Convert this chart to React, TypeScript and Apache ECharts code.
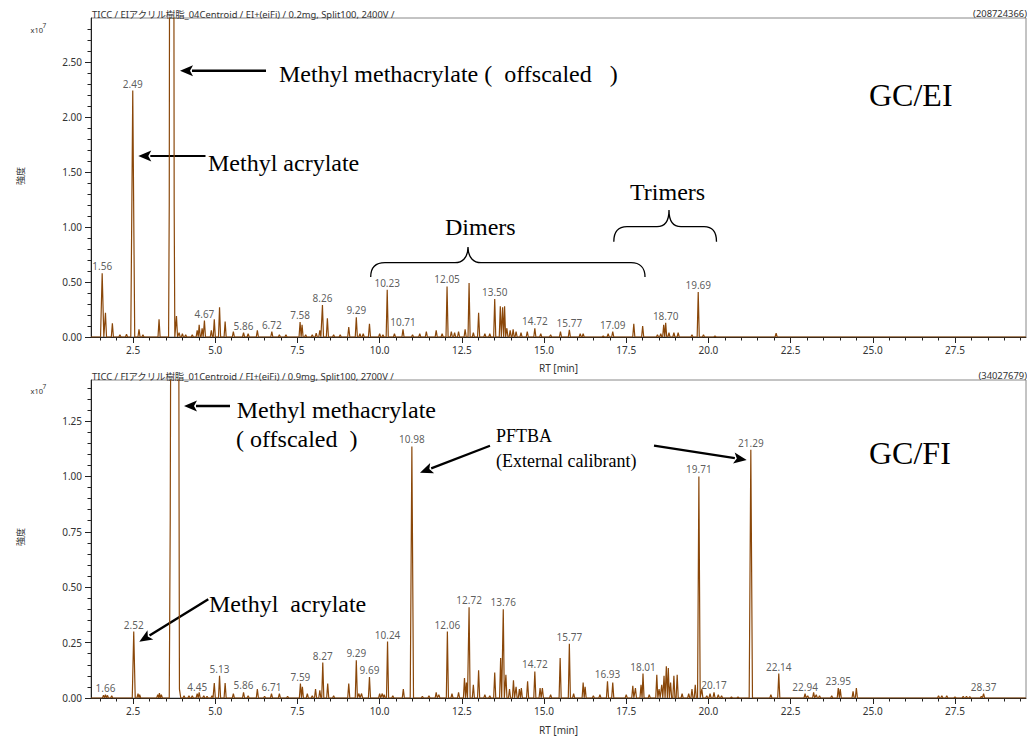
import React, { useEffect, useRef } from "react";
import * as echarts from "echarts";

// ---------- axis ranges & tick labels ----------
const X_MIN = 1.22;
const X_MAX = 29.66;
const X_LABELS = [2.5, 5, 7.5, 10, 12.5, 15, 17.5, 20, 22.5, 25, 27.5];
const EI_Y_MAX = 2.9;
const EI_Y_LABELS = [0, 0.5, 1, 1.5, 2, 2.5];
const FI_Y_MAX = 1.435;
const FI_Y_LABELS = [0, 0.25, 0.5, 0.75, 1, 1.25];

// ---------- GC/EI chromatogram peaks [RT min, intensity x1e7, (half width)] ----------
const EI_PEAKS: number[][] = [
  [1.56, 0.58, 0.05], [1.66, 0.22], [1.87, 0.125], [2.1, 0.02], [2.3, 0.025], [2.49, 2.24, 0.06],
  [2.68, 0.07], [2.8, 0.02], [3.29, 0.16], [3.82, 0.19], [3.9, 0.04], [4.0, 0.03], [4.1, 0.02],
  [4.3, 0.02], [4.45, 0.06], [4.51, 0.11], [4.6, 0.08], [4.67, 0.15], [4.88, 0.06], [4.97, 0.16],
  [5.13, 0.27], [5.3, 0.14], [5.55, 0.05], [5.86, 0.04], [6.0, 0.03], [6.28, 0.06], [6.72, 0.05],
  [6.95, 0.02], [7.15, 0.02], [7.58, 0.135], [7.64, 0.11], [7.75, 0.02], [7.95, 0.02], [8.07, 0.035],
  [8.18, 0.06], [8.26, 0.29], [8.41, 0.17], [8.6, 0.02], [8.8, 0.02], [9.06, 0.09], [9.29, 0.18],
  [9.4, 0.03], [9.5, 0.03], [9.69, 0.12], [10.0, 0.03], [10.1, 0.02], [10.23, 0.43], [10.45, 0.03],
  [10.71, 0.07], [11.0, 0.02], [11.22, 0.03], [11.42, 0.05], [11.72, 0.06], [11.9, 0.03],
  [12.05, 0.46], [12.18, 0.05], [12.28, 0.04], [12.4, 0.05], [12.6, 0.07], [12.72, 0.49],
  [12.85, 0.04], [13.01, 0.22], [13.2, 0.03], [13.35, 0.03], [13.5, 0.345], [13.67, 0.28],
  [13.74, 0.27], [13.8, 0.28], [13.87, 0.08], [13.97, 0.06], [14.06, 0.07], [14.15, 0.05],
  [14.3, 0.04], [14.49, 0.05], [14.72, 0.08], [14.9, 0.03], [15.2, 0.02], [15.5, 0.05],
  [15.77, 0.065], [16.1, 0.03], [16.19, 0.03], [16.8, 0.01], [16.95, 0.03], [17.09, 0.05],
  [17.73, 0.12], [18.0, 0.1], [18.45, 0.02], [18.55, 0.03], [18.64, 0.11], [18.7, 0.13],
  [18.8, 0.04], [18.95, 0.04], [19.08, 0.04], [19.5, 0.02], [19.69, 0.41], [19.85, 0.02],
  [20.2, 0.01], [22.06, 0.035],
];
// off-scale methyl methacrylate peak (EI), apex = 20.87e7
const EI_MMA: number[][] = [
  [3.58, 0], [3.6, 1.2], [3.62, 6], [3.675, 20.87], [3.73, 6], [3.75, 1.2], [3.77, 0],
];
const EI_LABELS = [1.56, 2.49, 4.67, 5.86, 6.72, 7.58, 8.26, 9.29, 10.23, 10.71, 12.05, 13.5, 14.72, 15.77, 17.09, 18.7, 19.69];

// ---------- GC/FI chromatogram peaks ----------
const FI_PEAKS: number[][] = [
  [1.6, 0.012], [1.66, 0.015], [1.72, 0.012], [1.85, 0.01], [2.52, 0.3, 0.045], [2.65, 0.02],
  [2.7, 0.015], [3.25, 0.015], [3.3, 0.022], [3.36, 0.015], [4.05, 0.01], [4.2, 0.01], [4.3, 0.01],
  [4.45, 0.02], [4.51, 0.025], [4.65, 0.01], [4.75, 0.008], [4.9, 0.01], [4.97, 0.068], [5.13, 0.1],
  [5.3, 0.068], [5.55, 0.02], [5.86, 0.025], [6.0, 0.01], [6.28, 0.04], [6.5, 0.008], [6.71, 0.02],
  [6.95, 0.02], [7.2, 0.008], [7.59, 0.065], [7.65, 0.05], [7.8, 0.02], [7.95, 0.01], [8.05, 0.04],
  [8.18, 0.035], [8.27, 0.16], [8.42, 0.065], [8.6, 0.01], [9.06, 0.065], [9.29, 0.17], [9.37, 0.02],
  [9.45, 0.02], [9.69, 0.095], [10.0, 0.02], [10.08, 0.02], [10.14, 0.015], [10.24, 0.255],
  [10.4, 0.01], [10.72, 0.04], [10.98, 1.135, 0.05], [11.3, 0.008], [11.5, 0.01], [11.72, 0.025],
  [11.8, 0.015], [12.06, 0.3], [12.2, 0.02], [12.4, 0.025], [12.58, 0.09], [12.64, 0.07],
  [12.72, 0.41], [12.85, 0.06], [13.01, 0.125], [13.2, 0.015], [13.35, 0.01], [13.5, 0.115],
  [13.68, 0.18], [13.76, 0.4], [13.84, 0.105], [13.95, 0.04], [14.07, 0.08], [14.15, 0.05],
  [14.25, 0.04], [14.31, 0.045], [14.5, 0.075], [14.72, 0.12], [14.88, 0.045], [14.95, 0.045],
  [15.2, 0.015], [15.49, 0.18], [15.77, 0.245], [15.9, 0.02], [16.19, 0.07], [16.25, 0.05],
  [16.5, 0.01], [16.7, 0.015], [16.93, 0.075], [17.09, 0.07], [17.5, 0.015], [17.7, 0.055],
  [17.78, 0.045], [17.95, 0.06], [18.01, 0.11], [18.2, 0.015], [18.43, 0.105], [18.5, 0.04],
  [18.58, 0.06], [18.65, 0.1], [18.72, 0.143], [18.78, 0.135], [18.85, 0.07], [18.95, 0.1],
  [19.05, 0.105], [19.2, 0.02], [19.4, 0.02], [19.5, 0.04], [19.6, 0.06], [19.71, 1.0, 0.04],
  [19.8, 0.04], [19.95, 0.01], [20.05, 0.02], [20.17, 0.025], [20.3, 0.015], [20.4, 0.01],
  [20.7, 0.005], [20.9, 0.005], [21.29, 1.12, 0.05], [21.9, 0.015], [22.14, 0.11], [22.94, 0.02],
  [23.02, 0.01], [23.2, 0.025], [23.28, 0.015], [23.38, 0.01], [23.75, 0.01], [23.95, 0.045],
  [24.01, 0.04], [24.4, 0.03], [24.5, 0.045], [27.0, 0.01], [27.1, 0.01], [27.25, 0.01],
  [27.5, 0.005], [27.75, 0.008], [27.85, 0.008], [27.95, 0.006], [28.3, 0.008], [28.37, 0.02],
];
// off-scale methyl methacrylate peak (FI), apex = 3.40e7
const FI_MMA: number[][] = [
  [3.6, 0], [3.63, 0.8], [3.66, 2.6], [3.77, 3.4], [3.88, 2.6], [3.9, 0.8], [3.91, 0.04], [3.95, 0],
];
const FI_LABELS = [1.66, 2.52, 4.45, 5.13, 5.86, 6.71, 7.59, 8.27, 9.29, 9.69, 10.24, 10.98, 12.06, 12.72, 13.76, 14.72, 15.77, 16.93, 18.01, 19.71, 20.17, 21.29, 22.14, 22.94, 23.95, 28.37];

// ---------- styles ----------
const LINE_COLOR = "#8a4709";
const SANS = "'Noto Sans', 'Noto Sans CJK JP', sans-serif";
const JP = "'Noto Sans CJK JP', 'Noto Sans', sans-serif";
const SERIF = "'Liberation Serif', 'DejaVu Serif', serif";
const AXIS_COLOR = "#222";
const TEXT_COLOR = "#333";

// brace shapes
try {
  echarts.graphic.registerShape(
    "braceDimers",
    echarts.graphic.extendPath(
      "M370.7,277 C370.7,268 375,262.7 385,262.7 L455,262.7 C462,262.7 468,258 468,247 C468,258 474,262.7 481,262.7 L631,262.7 C640,262.7 645,268 645,277",
      {}
    ) as any
  );
  echarts.graphic.registerShape(
    "braceTrimers",
    echarts.graphic.extendPath(
      "M613.8,241.7 C613.8,232 618,226.7 627,226.7 L657,226.7 C664,226.7 669,222 669,210 C669,222 674,226.7 681,226.7 L704,226.7 C712,226.7 716.5,232 716.5,241.7",
      {}
    ) as any
  );
} catch (e) {
  // already registered
}

function buildTrace(peaks: number[][], profile: number[][], hw: number): number[][] {
  const segs: number[][][] = peaks.map((p) => {
    const w = p.length > 2 ? p[2] : hw;
    return [
      [p[0] - w, 0],
      [p[0], p[1]],
      [p[0] + w, 0],
    ];
  });
  segs.push(profile);
  segs.sort((a, b) => a[0][0] - b[0][0]);
  const out: number[][] = [[X_MIN, 0]];
  segs.forEach((s) => s.forEach((pt) => out.push(pt)));
  out.push([X_MAX, 0]);
  return out;
}

function labelPoints(peaks: number[][], labels: number[]): number[][] {
  return labels.map((rt) => {
    let best = peaks[0];
    peaks.forEach((p) => {
      if (Math.abs(p[0] - rt) < Math.abs(best[0] - rt)) best = p;
    });
    return [rt, best[1]];
  });
}

function steps(from: number, to: number, step: number): number[] {
  const out: number[] = [];
  const n = Math.round((to - from) / step);
  for (let i = 0; i <= n; i++) out.push(+(from + i * step).toFixed(4));
  return out;
}

function arrow(x1: number, y1: number, x2: number, y2: number, lw = 2.2): any[] {
  const dx = x2 - x1;
  const dy = y2 - y1;
  const len = Math.sqrt(dx * dx + dy * dy);
  const ux = dx / len;
  const uy = dy / len;
  const hl = 13;
  const hwid = 5.5;
  const bx = x2 - ux * hl;
  const by = y2 - uy * hl;
  return [
    {
      type: "line",
      shape: { x1, y1, x2: bx + ux * 1, y2: by + uy * 1 },
      style: { stroke: "#000", lineWidth: lw },
      silent: true,
    },
    {
      type: "polygon",
      shape: {
        points: [
          [x2, y2],
          [bx - uy * hwid, by + ux * hwid],
          [bx + ux * 3, by + uy * 3],
          [bx + uy * hwid, by - ux * hwid],
        ],
      },
      style: { fill: "#000" },
      silent: true,
    },
  ];
}

function bigText(text: string, x: number, y: number, size = 24): any {
  return {
    type: "text",
    x,
    y,
    silent: true,
    style: {
      text,
      fontFamily: SERIF,
      fontSize: size,
      fill: "#000",
      align: "left",
      verticalAlign: "middle",
    },
  };
}

function smallText(text: string, x: number, y: number, opts: any = {}): any {
  return {
    type: "text",
    x,
    y,
    silent: true,
    rotation: opts.rotation || 0,
    style: {
      text,
      fontFamily: opts.font || SANS,
      fontSize: opts.size || 9,
      fill: opts.color || TEXT_COLOR,
      align: opts.align || "left",
      verticalAlign: "middle",
    },
  };
}

function makeAxes(gridIndex: number, yMax: number, yLabels: number[], yMinorStep: number) {
  const xMinor = steps(1.5, 29.5, 0.5);
  const yMinor = steps(0, Math.floor(yMax / yMinorStep) * yMinorStep, yMinorStep);
  const xAxes = [
    {
      type: "value",
      gridIndex,
      min: X_MIN,
      max: X_MAX,
      position: "bottom",
      axisLine: { show: true, onZero: false, lineStyle: { color: AXIS_COLOR, width: 1 } },
      axisTick: { show: true, customValues: X_LABELS, length: 6, lineStyle: { color: AXIS_COLOR } },
      axisLabel: {
        show: true,
        customValues: X_LABELS,
        formatter: (v: number) => v.toFixed(1),
        color: TEXT_COLOR,
        fontSize: 10,
        fontFamily: SANS,
        margin: 8,
      },
      splitLine: { show: false },
    },
    {
      type: "value",
      gridIndex,
      min: X_MIN,
      max: X_MAX,
      position: "bottom",
      axisLine: { show: false, onZero: false },
      axisTick: { show: true, customValues: xMinor, length: 3.5, lineStyle: { color: AXIS_COLOR } },
      axisLabel: { show: false },
      splitLine: { show: false },
    },
  ];
  const yAxes = [
    {
      type: "value",
      gridIndex,
      min: 0,
      max: yMax,
      position: "left",
      axisLine: { show: true, onZero: false, lineStyle: { color: AXIS_COLOR, width: 1 } },
      axisTick: { show: true, customValues: yLabels, length: 6, lineStyle: { color: AXIS_COLOR } },
      axisLabel: {
        show: true,
        customValues: yLabels,
        formatter: (v: number) => v.toFixed(2),
        color: TEXT_COLOR,
        fontSize: 10,
        fontFamily: SANS,
        margin: 9,
      },
      splitLine: { show: false },
    },
    {
      type: "value",
      gridIndex,
      min: 0,
      max: yMax,
      position: "left",
      axisLine: { show: false, onZero: false },
      axisTick: { show: true, customValues: yMinor, length: 3.5, lineStyle: { color: AXIS_COLOR } },
      axisLabel: { show: false },
      splitLine: { show: false },
    },
  ];
  return { xAxes, yAxes };
}

function peakLabelSeries(data: number[][], axisIndex: number): any {
  return {
    type: "scatter",
    xAxisIndex: axisIndex,
    yAxisIndex: axisIndex,
    data,
    symbolSize: 0,
    silent: true,
    itemStyle: { color: "rgba(0,0,0,0)" },
    label: {
      show: true,
      position: "top",
      distance: 2,
      formatter: (p: any) => Number(p.value[0]).toFixed(2),
      fontSize: 10,
      fontFamily: SANS,
      color: TEXT_COLOR,
    },
    z: 5,
  };
}

export default function App() {
  const ref = useRef<HTMLDivElement>(null);

  useEffect(() => {
    if (!ref.current) return;
    const chart = echarts.init(ref.current, undefined, { renderer: "svg" });

    const top = makeAxes(0, EI_Y_MAX, EI_Y_LABELS, 0.1);
    const bot = makeAxes(1, FI_Y_MAX, FI_Y_LABELS, 0.05);

    const eiTrace = buildTrace(EI_PEAKS, EI_MMA, 0.032);
    const fiTrace = buildTrace(FI_PEAKS, FI_MMA, 0.032);

    const graphics: any[] = [
      // headers (top)
      smallText("TICC / EIアクリル樹脂_04Centroid / EI+(eiFi) / 0.2mg, Split100, 2400V /", 92, 14, { size: 9.4, font: SANS }),
      smallText("(208724366)", 1027, 13, { size: 9.4, align: "right" }),
      smallText("x10", 30.5, 30, { size: 7.5 }),
      smallText("7", 42.5, 25, { size: 6.5 }),
      smallText("強度", 20, 176, { size: 9, font: JP, rotation: Math.PI / 2, align: "center" }),
      smallText("RT [min]", 558.5, 368, { size: 10, align: "center" }),
      // headers (bottom)
      smallText("TICC / FIアクリル樹脂_01Centroid / FI+(eiFi) / 0.9mg, Split100, 2700V /", 92, 376, { size: 9.4, font: SANS }),
      smallText("(34027679)", 1027, 375, { size: 9.4, align: "right" }),
      smallText("x10", 30.5, 391, { size: 7.5 }),
      smallText("7", 42.5, 386, { size: 6.5 }),
      smallText("強度", 20, 537, { size: 9, font: JP, rotation: Math.PI / 2, align: "center" }),
      smallText("RT [min]", 558.5, 730, { size: 10, align: "center" }),
      // annotations top
      bigText("Methyl methacrylate (  offscaled   )", 279, 74),
      ...arrow(266, 70.7, 180, 70.7, 2.4),
      bigText("Methyl acrylate", 208, 163),
      ...arrow(205.5, 156, 138.3, 156, 2.2),
      bigText("Dimers", 445, 227),
      bigText("Trimers", 630, 192),
      bigText("GC/EI", 869, 95, 32),
      {
        type: "braceDimers",
        x: 0,
        y: 0,
        silent: true,
        style: { stroke: "#000", fill: "none", lineWidth: 1.3 },
      },
      {
        type: "braceTrimers",
        x: 0,
        y: 0,
        silent: true,
        style: { stroke: "#000", fill: "none", lineWidth: 1.3 },
      },
      // annotations bottom
      bigText("Methyl methacrylate", 236.7, 410),
      bigText("( offscaled  )", 236, 439),
      ...arrow(230, 406, 184, 406, 2.4),
      bigText("PFTBA", 496, 435.5, 18),
      bigText("(External calibrant)", 496, 461, 18),
      ...arrow(490, 445.7, 420, 472.7, 2.2),
      ...arrow(654, 445.7, 746.7, 460, 2.2),
      bigText("GC/FI", 869, 453, 32),
      bigText("Methyl  acrylate", 209, 603.7),
      ...arrow(208.3, 599.3, 139.3, 641.7, 2.4),
    ];

    const option: any = {
      animation: false,
      backgroundColor: "#fff",
      grid: [
        { left: 91, right: 1, top: 18, height: 319, show: true, borderColor: "#888", borderWidth: 1, containLabel: false },
        { left: 91, right: 1, top: 380, height: 318, show: true, borderColor: "#888", borderWidth: 1, containLabel: false },
      ],
      xAxis: [...top.xAxes, ...bot.xAxes],
      yAxis: [...top.yAxes, ...bot.yAxes],
      series: [
        {
          type: "line",
          xAxisIndex: 0,
          yAxisIndex: 0,
          data: eiTrace,
          showSymbol: false,
          symbol: "none",
          silent: true,
          clip: true,
          lineStyle: { color: LINE_COLOR, width: 1.2 },
          z: 3,
        },
        peakLabelSeries(labelPoints(EI_PEAKS, EI_LABELS), 0),
        {
          type: "line",
          xAxisIndex: 2,
          yAxisIndex: 2,
          data: fiTrace,
          showSymbol: false,
          symbol: "none",
          silent: true,
          clip: true,
          lineStyle: { color: LINE_COLOR, width: 1.2 },
          z: 3,
        },
        peakLabelSeries(labelPoints(FI_PEAKS, FI_LABELS), 2),
      ],
      graphic: graphics,
    };

    chart.setOption(option);
    return () => {
      chart.dispose();
    };
  }, []);

  return (
    <div
      ref={ref}
      style={{ position: "fixed", left: 0, top: 0, width: "1027px", height: "736px", background: "#fff" }}
    />
  );
}
